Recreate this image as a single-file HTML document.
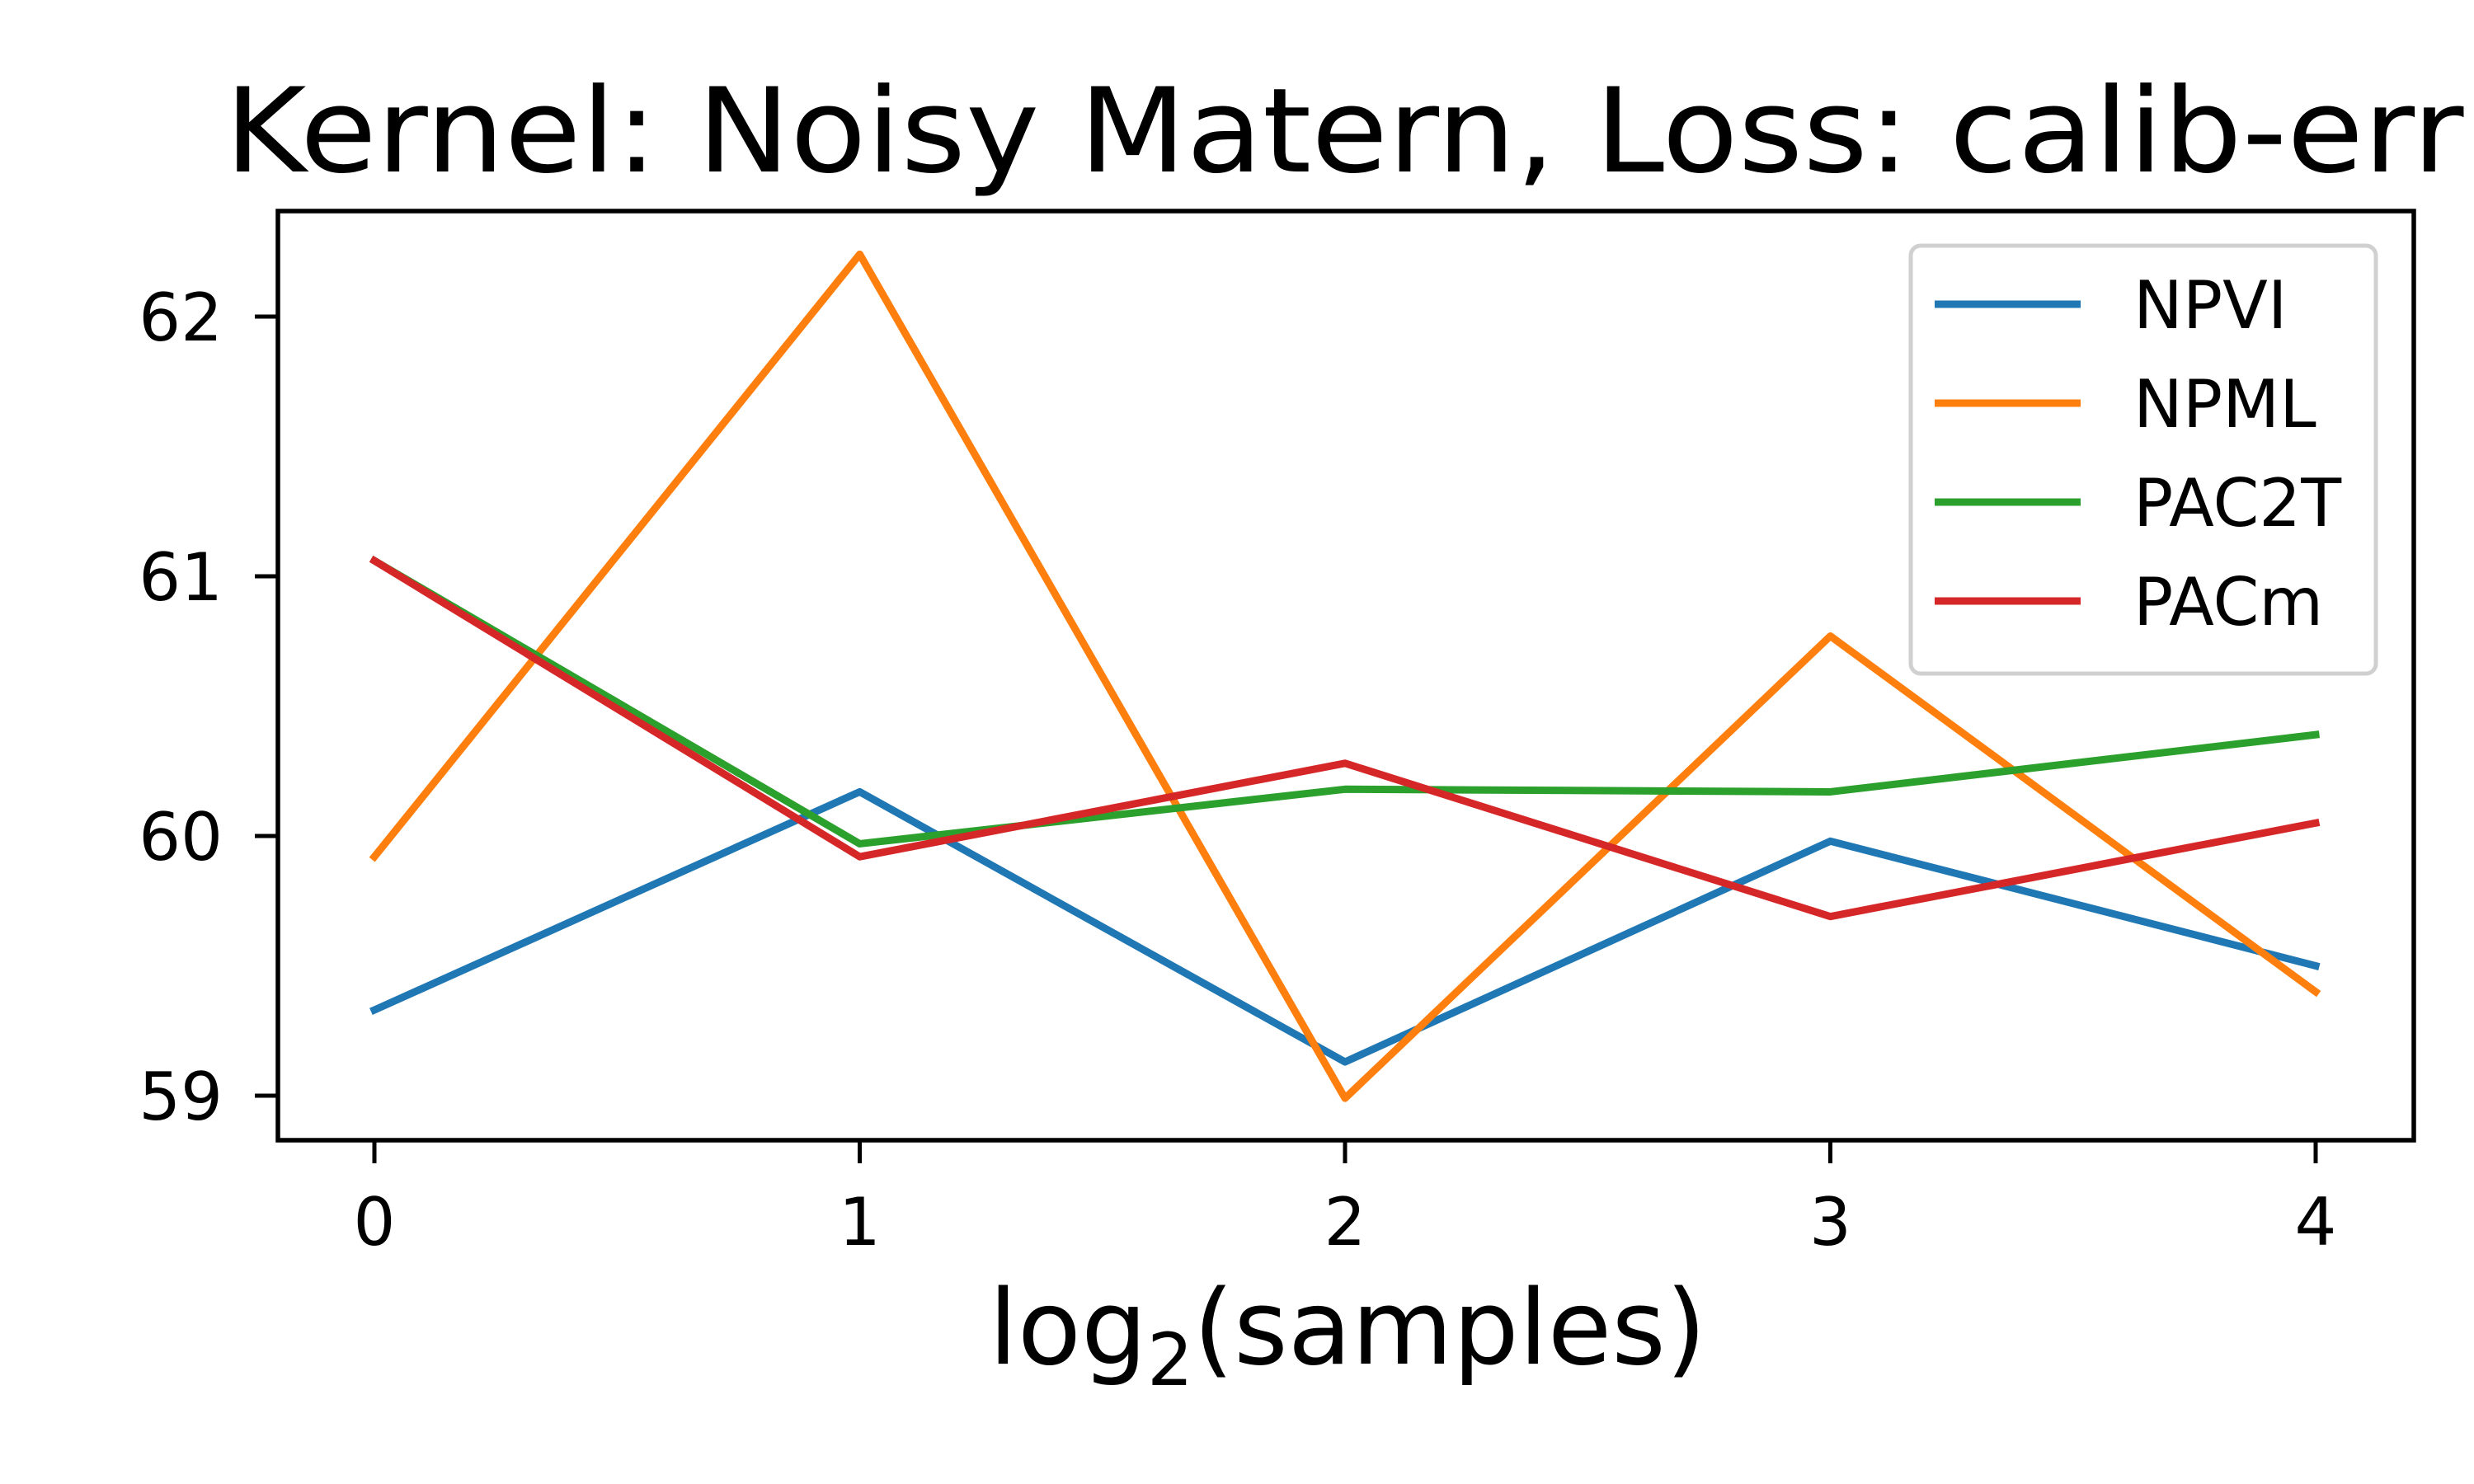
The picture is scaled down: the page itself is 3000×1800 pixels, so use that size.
<!DOCTYPE html>
<html><head><meta charset="utf-8"><style>html,body{margin:0;padding:0;background:#fff}svg{display:block}</style></head>
<body>
<svg id="chart" width="3000" height="1800" viewBox="0 0 3000 1800" xmlns="http://www.w3.org/2000/svg" font-family="'DejaVu Sans','Liberation Sans',sans-serif">
<rect width="3000" height="1800" fill="#fff"/>
<text x="1630" y="208" font-size="142" text-anchor="middle" textLength="2715" lengthAdjust="spacingAndGlyphs">Kernel: Noisy Matern, Loss: calib-err</text>
<g id="plot"></g>
<text x="1634" y="1654" font-size="126" text-anchor="middle">log<tspan font-size="88" dy="26">2</tspan><tspan dy="-26">(samples)</tspan></text>
</svg>
<script>
const categories = [0, 1, 2, 3, 4];
const xTicks = ["0", "1", "2", "3", "4"];
const yTicks = [59, 60, 61, 62];
const seriesNames = ["NPVI", "NPML", "PAC2T", "PACm"];
const seriesColors = ["#1f77b4", "#ff7f0e", "#2ca02c", "#d62728"];
const npvi = [59.33, 60.17, 59.13, 59.98, 59.50];
const npml = [59.92, 62.24, 58.99, 60.77, 59.40];
const pac2t = [61.06, 59.97, 60.18, 60.17, 60.39];
const pacm = [61.06, 59.92, 60.28, 59.69, 60.05];
const seriesValues = [npvi, npml, pac2t, pacm];

const L = 337, R = 2927, T = 256, B = 1383;
function xs(v){ return 454 + (v - 0) * (2808 - 454) / 4; }
function ys(v){ return 1329 - (v - 59) * 315; }
const NS = "http://www.w3.org/2000/svg";
const g = document.getElementById('plot');
function mk(tag, attrs, parent){ const e = document.createElementNS(NS, tag); for (const k in attrs) e.setAttribute(k, attrs[k]); (parent||g).appendChild(e); return e; }

const clip = mk('clipPath', {id:'clipA'});
mk('rect', {x:L, y:T, width:R-L, height:B-T}, clip);

seriesValues.forEach((vals, i) => {
  const pts = vals.map((v, j) => xs(categories[j]) + ',' + ys(v)).join(' ');
  const pl = mk('polyline', {points: pts, fill:'none', stroke: seriesColors[i], 'stroke-width': 9, 'stroke-linejoin':'round', 'stroke-linecap':'square', 'clip-path':'url(#clipA)'});
  
  
});

const frame = mk('rect', {x:L, y:T, width:R-L, height:B-T, fill:'none', stroke:'#000', 'stroke-width':5.5});



categories.forEach((c, i) => {
  const x = xs(c);
  const t = mk('line', {x1:x, x2:x, y1:B, y2:B+28, stroke:'#000', 'stroke-width':5});
  
  
  const lb = mk('text', {x:x, y:1510, 'font-size':80, 'text-anchor':'middle'});
  lb.textContent = xTicks[i];
  
  
});
yTicks.forEach(v => {
  const y = ys(v);
  const t = mk('line', {x1:L-28, x2:L, y1:y, y2:y, stroke:'#000', 'stroke-width':5});
  
  
  const lb = mk('text', {x:270, y:y+29, 'font-size':80, 'text-anchor':'end'});
  lb.textContent = String(v);
  
  
});

const leg = mk('g', {});


mk('rect', {x:2317, y:298, width:564, height:519, rx:12, fill:'#fff', 'fill-opacity':0.8, stroke:'#d0d0d0', 'stroke-width':5}, leg);
seriesNames.forEach((n, i) => {
  const y = 369 + i * 120;
  const ln = mk('line', {x1:2346, x2:2523, y1:y, y2:y, stroke:seriesColors[i], 'stroke-width':9}, leg);
  
  
  const tx = mk('text', {x:2587, y:y+29, 'font-size':80}, leg);
  tx.textContent = n;
  
  
});
</script>
</body></html>
